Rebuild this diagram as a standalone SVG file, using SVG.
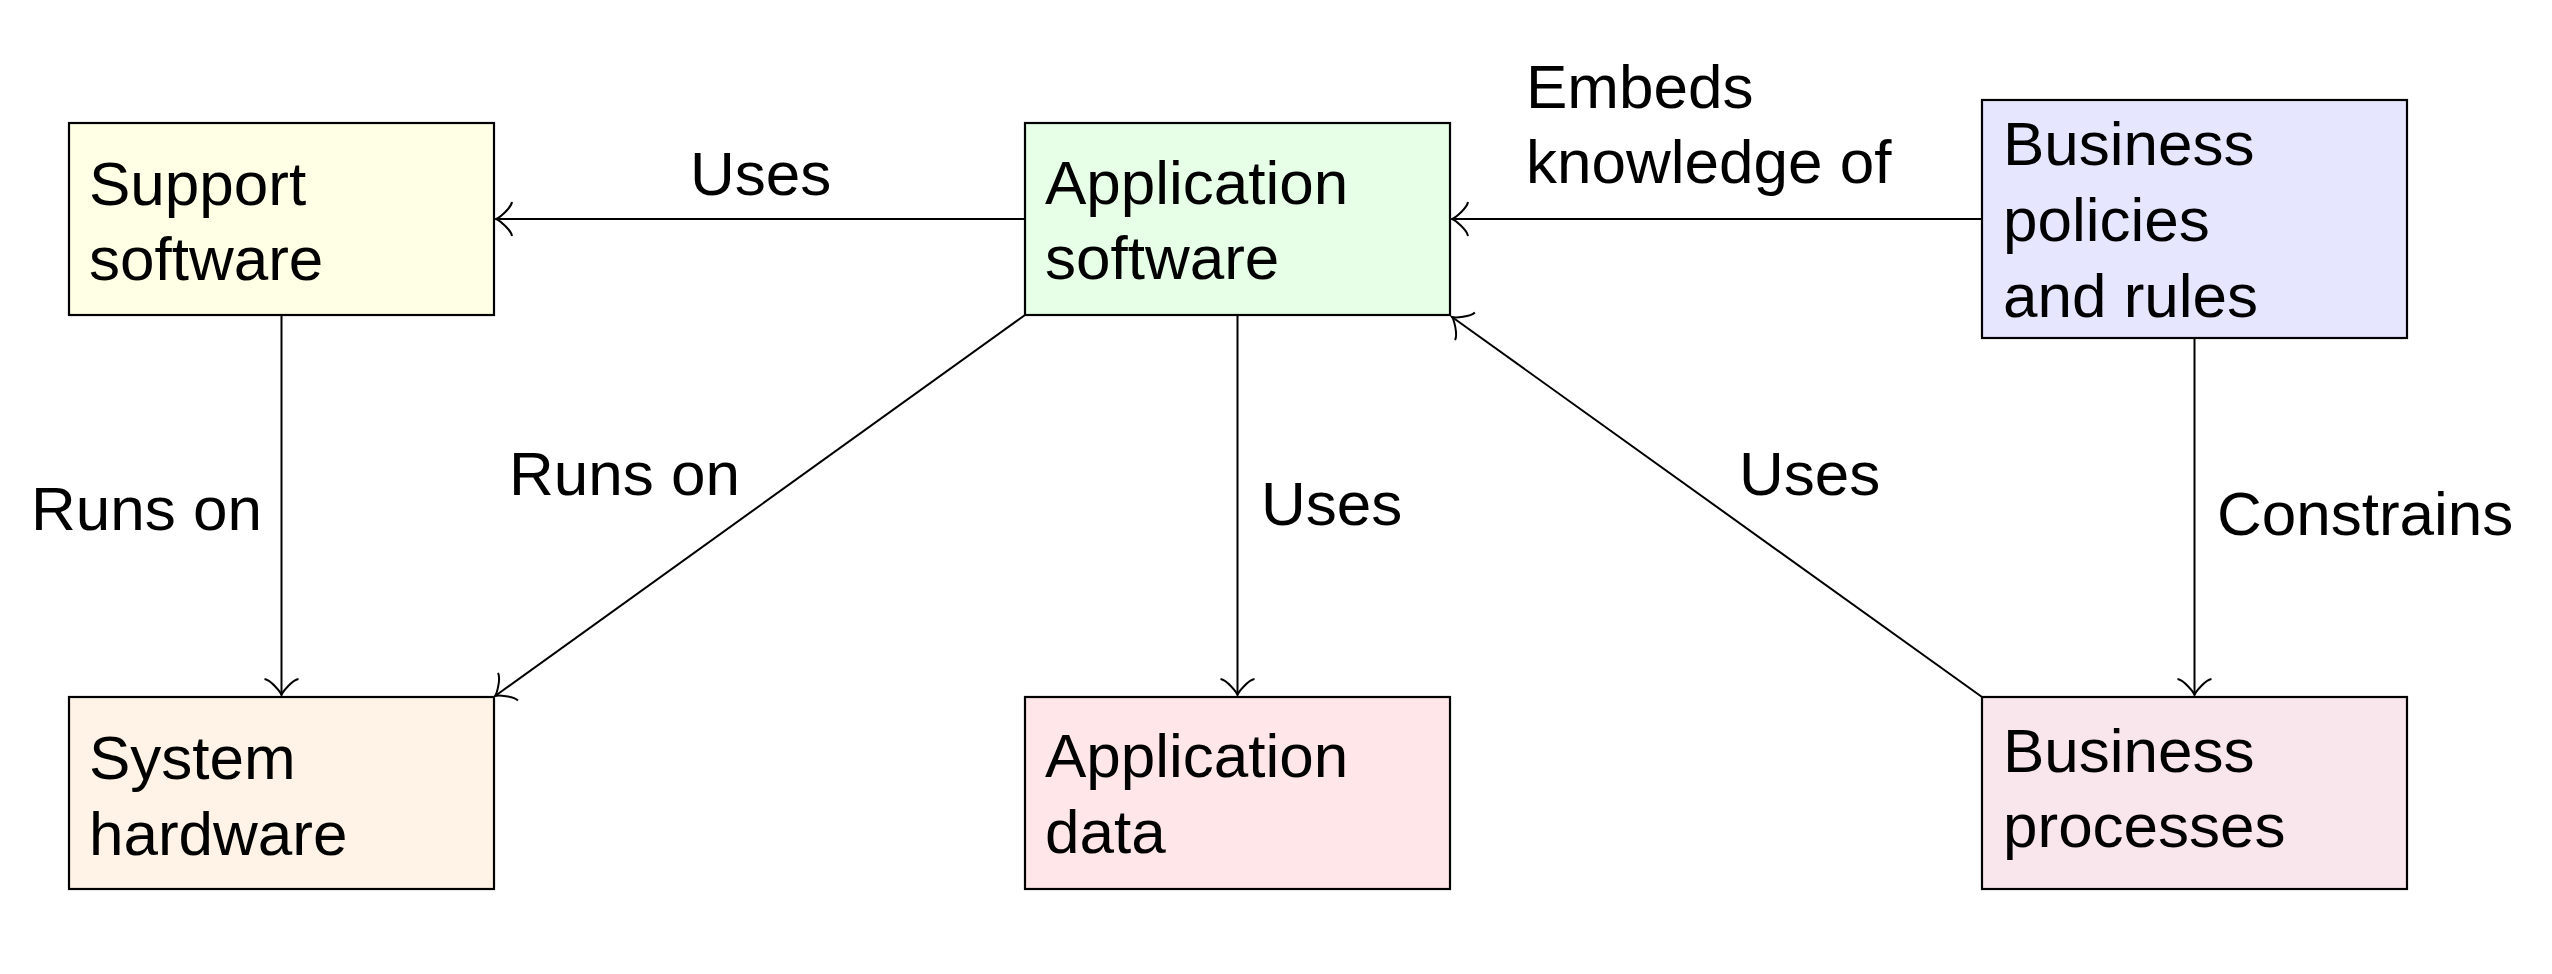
<svg xmlns="http://www.w3.org/2000/svg" width="2552" height="974" viewBox="0 0 2552 974">
<style>
.box{stroke:#000;stroke-width:2.2}
.t{font-family:"Liberation Sans",Arial,Helvetica,sans-serif;font-size:62px;fill:#000}
.c{fill:none;stroke:#000;stroke-width:2}
</style>
<defs>
<marker id="to" viewBox="-18 -19 20 38" refX="0" refY="0" markerWidth="20" markerHeight="38" markerUnits="userSpaceOnUse" orient="auto" overflow="visible">
<path d="M-16,17 C-14.9,10.6 -3.2,1.1 0,0 C-3.2,-1.1 -14.9,-10.6 -16,-17" fill="none" stroke="#000" stroke-width="2"/>
</marker>
</defs>
<rect width="2552" height="974" fill="#fff"/>
<g id="connectors">
<path class="c" d="M1025,219 L496,219" marker-end="url(#to)"/>
<path class="c" d="M281.5,315 L281.5,695" marker-end="url(#to)"/>
<path class="c" d="M1025,315 L495,696" marker-end="url(#to)"/>
<path class="c" d="M1237.5,315 L1237.5,695" marker-end="url(#to)"/>
<path class="c" d="M1982,697 L1452,317" marker-end="url(#to)"/>
<path class="c" d="M1982,219 L1452,219" marker-end="url(#to)"/>
<path class="c" d="M2194.5,338 L2194.5,695" marker-end="url(#to)"/>
<text class="t" x="690" y="195">Uses</text>
<text class="t" x="31" y="530">Runs on</text>
<text class="t" x="509" y="495">Runs on</text>
<text class="t" x="1261" y="525">Uses</text>
<text class="t" x="1739" y="495">Uses</text>
<text class="t" x="2217" y="535">Constrains</text>
<text class="t" x="1526" y="108">Embeds</text>
<text class="t" x="1526" y="183">knowledge of</text>
</g>
<g id="support">
<rect class="box" x="69" y="123" width="425" height="192" fill="#FFFFE6"/>
<text class="t" x="89" y="205">Support</text>
<text class="t" x="89" y="280">software</text>
</g>
<g id="appsoftware">
<rect class="box" x="1025" y="123" width="425" height="192" fill="#E6FFE6"/>
<text class="t" x="1045" y="204">Application</text>
<text class="t" x="1045" y="279">software</text>
</g>
<g id="policies">
<rect class="box" x="1982" y="100" width="425" height="238" fill="#E6E6FF"/>
<text class="t" x="2003" y="165">Business</text>
<text class="t" x="2003" y="241">policies</text>
<text class="t" x="2003" y="317">and rules</text>
</g>
<g id="hardware">
<rect class="box" x="69" y="697" width="425" height="192" fill="#FFF2E6"/>
<text class="t" x="89" y="779">System</text>
<text class="t" x="89" y="855">hardware</text>
</g>
<g id="appdata">
<rect class="box" x="1025" y="697" width="425" height="192" fill="#FFE6E8"/>
<text class="t" x="1045" y="777">Application</text>
<text class="t" x="1045" y="853">data</text>
</g>
<g id="processes">
<rect class="box" x="1982" y="697" width="425" height="192" fill="#F9E6EC"/>
<text class="t" x="2003" y="772">Business</text>
<text class="t" x="2003" y="847">processes</text>
</g>
</svg>
